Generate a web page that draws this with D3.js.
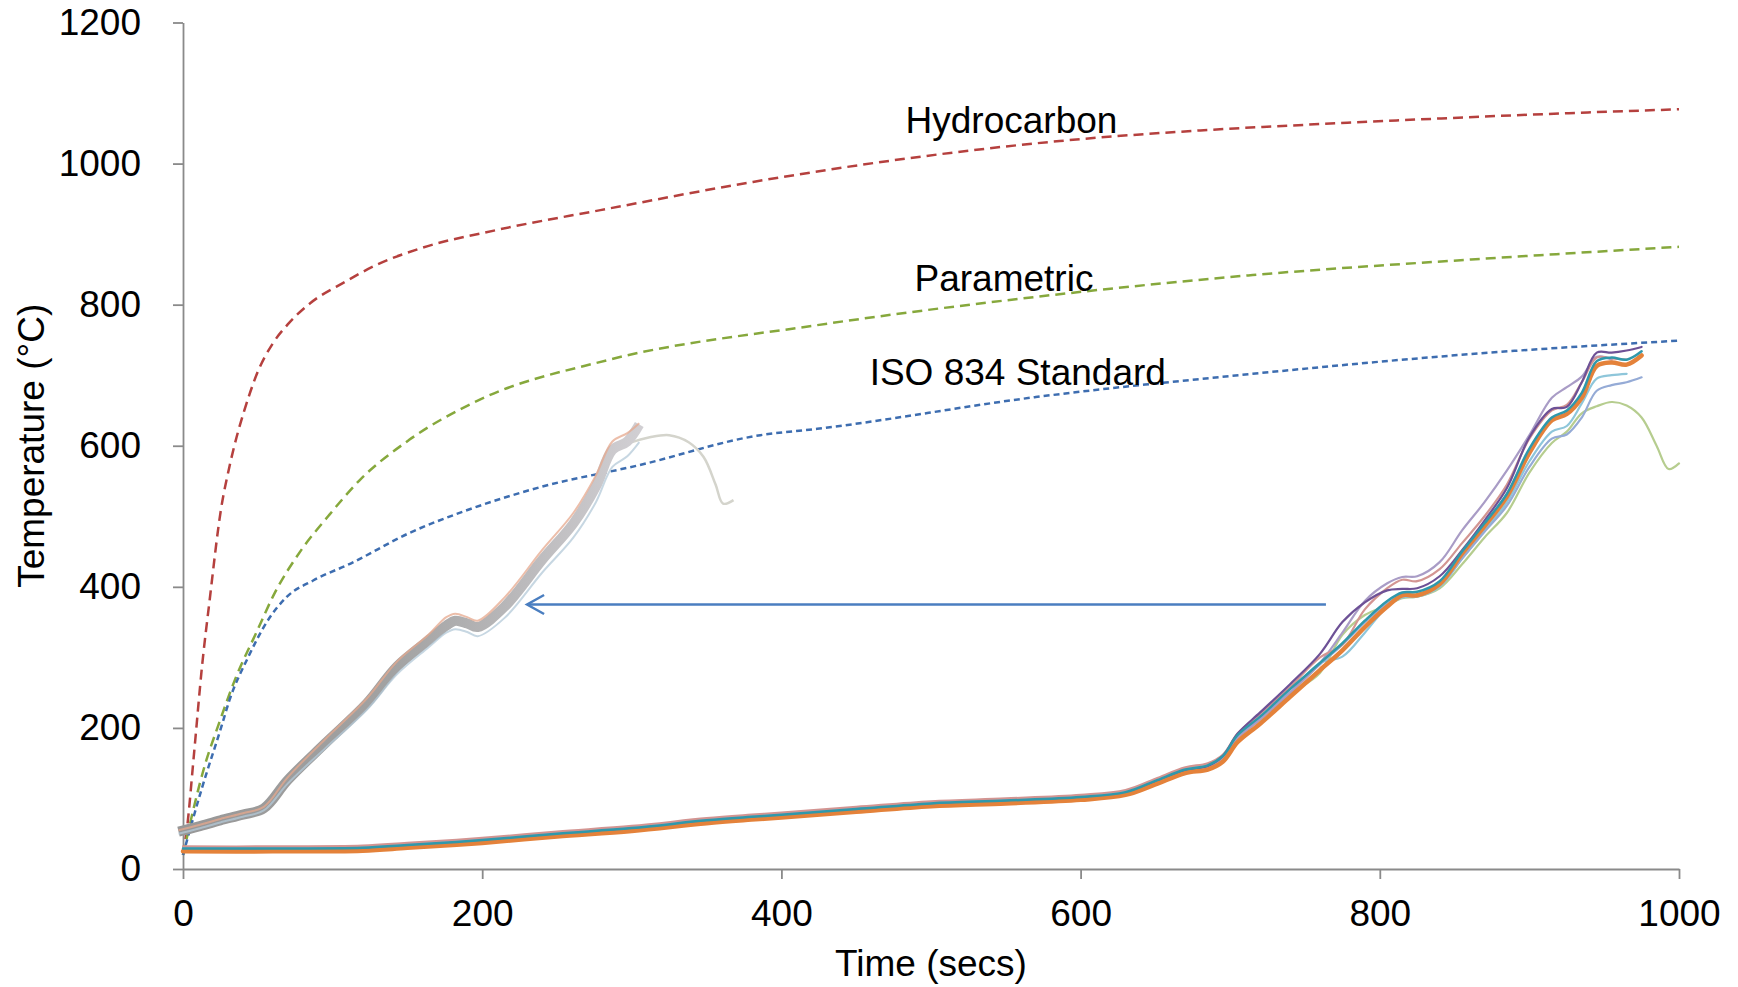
<!DOCTYPE html>
<html>
<head>
<meta charset="utf-8">
<script src="https://cdn.jsdelivr.net/npm/d3@7"></script>
<style>
  body { margin: 0; background: #fff; }
  svg { display: block; font-family: "Liberation Sans", Arial, sans-serif; }
  .axis path, .axis line { stroke: #8a8a8a; stroke-width: 1.8px; }
  .axis text { font-size: 37px; fill: #000; }
</style>
</head>
<body>
<svg id="chart" width="1738" height="987"></svg>
<script>
// ---- fire curves (time in secs, temperature in degC) ----
var hydroTimes = [0, 2.5, 7.6, 12.7, 17.8, 25.4, 31, 35.8, 41, 50, 60, 70, 85, 108, 130, 159, 210, 279, 381, 483, 586, 680, 760, 841, 920, 1000];
var hydroTemps = [20, 55, 169, 287, 381, 510, 570, 612, 650, 705, 745, 772, 802, 832, 857, 880, 906, 934, 974, 1007, 1032, 1047, 1056, 1064, 1071, 1077];

var paramTimes = [0, 15, 23, 36, 49, 61, 79, 97, 118, 151, 197, 283, 424, 570, 715, 861, 1000];
var paramTemps = [20, 150, 200, 275, 335, 390, 452, 500, 551, 608, 664, 721, 771, 811, 842, 864, 882];

var isoTimes = [0, 12.7, 25.4, 31, 43.5, 56, 69, 87, 112, 151, 189, 240, 304, 386, 424, 570, 715, 861, 1000];
var isoTemps = [20, 115, 200, 239, 300, 350, 385, 409, 433, 476, 508, 542, 572, 615, 624, 669, 702, 730, 749];

// ---- test thermocouples ----
var testTimes = [0, 60, 120, 150, 200, 250, 300, 350, 380, 400, 450, 500, 550, 600, 630, 650, 670, 685, 695, 705,
                 720, 740, 760, 775, 790, 805, 815, 825, 840, 855, 870, 885, 900, 915, 925, 935, 945, 955, 965, 975,
                 985, 993, 1000];
var tcGreen = [28, 28, 29, 33, 40, 49, 57, 68, 73, 76, 84, 92, 96, 101, 108, 124, 140, 145, 157, 187,
               213, 248, 278, 332, 360, 374, 384, 386, 398, 432, 470, 505, 562, 604, 620, 646, 656, 662, 657, 640,
               600, 567, 575];
var tcLightBlue = [30, 30, 31, 35, 42, 51, 59, 70, 75, 78, 86, 94, 98, 103, 110, 126, 142, 147, 159, 189,
                   215, 250, 292, 301, 335, 372, 385, 386, 400, 440, 480, 520, 578, 620, 628, 660, 695, 700, 702, null,
                   null, null, null];
var tcPeriwinkle = [27, 27, 28, 32, 39, 48, 56, 67, 72, 75, 83, 91, 95, 100, 107, 123, 139, 144, 156, 186,
                    212, 250, 290, 318, 350, 376, 388, 388, 402, 440, 478, 515, 570, 610, 616, 640, 678, 686, 690, 697,
                    null, null, null];
var tcLavender = [29, 29, 30, 34, 41, 50, 58, 69, 74, 77, 85, 93, 97, 102, 108, 123, 139, 144, 156, 186,
                  212, 250, 292, 335, 380, 405, 414, 415, 435, 480, 520, 565, 615, 668, 683, 698, 726, 722, null, null,
                  null, null, null];
var tcRose = [32, 32, 33, 37, 44, 53, 61, 72, 77, 80, 88, 96, 100, 105, 112, 128, 144, 150, 162, 192,
              220, 258, 300, 318, 368, 398, 410, 408, 425, 462, 500, 545, 610, 650, 658, 690, 725, 724, 722, null,
              null, null, null];
var tcPurple = [28, 28, 29, 33, 40, 49, 57, 68, 73, 76, 84, 92, 96, 101, 108, 124, 140, 146, 160, 192,
                222, 262, 305, 350, 378, 395, 397, 398, 415, 452, 494, 540, 612, 652, 655, 690, 732, 732, 735, 740,
                null, null, null];
var tcOrange = [25, 25, 26, 30, 37, 46, 54, 65, 70, 73, 81, 89, 93, 98, 105, 120, 136, 141, 152, 180,
                206, 244, 282, 310, 343, 372, 388, 388, 404, 447, 486, 528, 590, 636, 645, 668, 713, 718, 715, 728,
                null, null, null];
var tcTeal = [29, 29, 30, 34, 41, 50, 58, 69, 74, 77, 85, 93, 97, 102, 109, 125, 141, 147, 160, 190,
              216, 255, 292, 320, 352, 380, 392, 393, 408, 450, 490, 532, 596, 640, 650, 675, 720, 725, 722, 734,
              null, null, null];

// ---- earlier test, pasted in shifted to the left ----
var shiftTimes = [-3, 10, 25, 40, 54, 70, 95, 123, 143, 164, 176, 182, 190, 197, 215, 240, 261, 276, 287, 297, 305];
var shiftGray  = [53, 60, 69, 77, 86, 126, 178, 235, 287, 324, 345, 352, 348, 343, 372, 438, 490, 542, 594, 606, 630];
var shiftPink  = [55, 62, 71, 79, 88, 130, 184, 242, 294, 332, 357, 362, 357, 352, 385, 452, 505, 558, 606, 618, 632];
var shiftBlue  = [50, 57, 66, 74, 83, 121, 171, 226, 276, 314, 335, 340, 336, 330, 356, 420, 470, 520, 570, 585, 605];
var tailTimes = [297, 312, 325, 338, 348, 356, 361, 368];
var tailTemps = [603, 612, 615, 605, 584, 545, 518, 523];

var arrowFrom = [764, 375];
var arrowTo = [230, 375];

var xTicks = [0, 200, 400, 600, 800, 1000];
var yTicks = [0, 200, 400, 600, 800, 1000, 1200];

var curveLabels = [
  { text: "Hydrocarbon", t: 483, temp: 1043 },
  { text: "Parametric", t: 489, temp: 820 },
  { text: "ISO 834 Standard", t: 459, temp: 686 }
];

var svg = d3.select("#chart");
var W = 1738, H = 987;
var margin = { left: 183, right: 59, top: 22.5, bottom: 118 };

var x = d3.scaleLinear().domain([0, 1000]).range([margin.left, W - margin.right]);
var y = d3.scaleLinear().domain([0, 1200]).range([H - margin.bottom, margin.top]);

var zip = function(ts, vs) {
  return ts.map(function(t, i) { return { t: t, v: vs[i] }; });
};

var smoothLine = d3.line()
  .defined(function(d) { return d.v != null; })
  .x(function(d) { return x(d.t); })
  .y(function(d) { return y(d.v); })
  .curve(d3.curveCatmullRom.alpha(0.5));

var monoLine = d3.line()
  .x(function(d) { return x(d.t); })
  .y(function(d) { return y(d.v); })
  .curve(d3.curveMonotoneX);

// Axes
svg.append("g").attr("class", "axis")
  .attr("transform", "translate(0," + y(0) + ")")
  .call(d3.axisBottom(x).tickValues(xTicks).tickFormat(d3.format("d"))
    .tickSize(10).tickSizeOuter(0).tickPadding(21));
svg.append("g").attr("class", "axis")
  .attr("transform", "translate(" + x(0) + ",0)")
  .call(d3.axisLeft(y).tickValues(yTicks).tickFormat(d3.format("d"))
    .tickSize(10).tickSizeOuter(0).tickPadding(32));

svg.append("text").attr("x", (x(0) + x(1000)) / 2).attr("y", 976)
  .attr("text-anchor", "middle").style("font-size", "37px").text("Time (secs)");
svg.append("text").attr("transform", "translate(44," + (y(0) + y(1200)) / 2 + ") rotate(-90)")
  .attr("text-anchor", "middle").style("font-size", "37px").text("Temperature (°C)");

// Fire curves
var fires = [
  { times: hydroTimes, temps: hydroTemps, color: "#b5403e", dash: "10,6" },
  { times: paramTimes, temps: paramTemps, color: "#86a83c", dash: "10,6" },
  { times: isoTimes, temps: isoTemps, color: "#3d6db0", dash: "6,4" }
];
fires.forEach(function(f) {
  svg.append("path").attr("d", monoLine(zip(f.times, f.temps)))
    .attr("fill", "none").attr("stroke", f.color).attr("stroke-width", 2.5)
    .attr("stroke-dasharray", f.dash);
});

// Shifted earlier test (faded)
var defs = svg.append("defs");
var grad = defs.append("linearGradient").attr("id", "fade")
  .attr("gradientUnits", "userSpaceOnUse")
  .attr("x1", x(0)).attr("x2", x(310)).attr("y1", 0).attr("y2", 0);
grad.append("stop").attr("offset", "0").attr("stop-color", "#979797");
grad.append("stop").attr("offset", "0.45").attr("stop-color", "#a2a2a2");
grad.append("stop").attr("offset", "1").attr("stop-color", "#d2d0d4");

svg.append("path").attr("d", smoothLine(zip(tailTimes, tailTemps)))
  .attr("fill", "none").attr("stroke", "#d4d4cc").attr("stroke-width", 2.5);
svg.append("path").attr("d", smoothLine(zip(shiftTimes, shiftGray)))
  .attr("fill", "none").attr("stroke", "url(#fade)").attr("stroke-width", 10);
[[shiftBlue, "#b4cad8"], [shiftPink, "#e6a88e"]].forEach(function(s) {
  svg.append("path").attr("d", smoothLine(zip(shiftTimes, s[0])))
    .attr("fill", "none").attr("stroke", s[1]).attr("stroke-width", 2)
    .attr("stroke-opacity", 0.75);
});

// Test thermocouples
var tests = [
  { temps: tcGreen, color: "#b6cd8f", w: 2.2 },
  { temps: tcLightBlue, color: "#8ec6da", w: 2.2 },
  { temps: tcPeriwinkle, color: "#95abd6", w: 2.2 },
  { temps: tcLavender, color: "#a99cc6", w: 2.2 },
  { temps: tcRose, color: "#d39592", w: 2.2 },
  { temps: tcPurple, color: "#6d5196", w: 2.2 },
  { temps: tcOrange, color: "#e4823a", w: 4.5 },
  { temps: tcTeal, color: "#2f98ab", w: 2.5 }
];
tests.forEach(function(s) {
  svg.append("path").attr("d", smoothLine(zip(testTimes, s.temps)))
    .attr("fill", "none").attr("stroke", s.color).attr("stroke-width", s.w)
    .attr("stroke-linejoin", "round").attr("stroke-linecap", "round");
});

// Shift arrow
var ax0 = x(arrowFrom[0]), ax1 = x(arrowTo[0]), ay = y(arrowTo[1]);
svg.append("line").attr("x1", ax0).attr("x2", ax1).attr("y1", ay).attr("y2", ay)
  .attr("stroke", "#4a7ec0").attr("stroke-width", 2.5);
svg.append("path")
  .attr("d", "M" + (ax1 + 17) + "," + (ay - 9.5) + "L" + ax1 + "," + ay + "L" + (ax1 + 17) + "," + (ay + 9.5))
  .attr("fill", "none").attr("stroke", "#4a7ec0").attr("stroke-width", 2.5);

// Curve labels
svg.selectAll("text.curve-label").data(curveLabels).enter().append("text")
  .attr("class", "curve-label")
  .attr("x", function(d) { return x(d.t); })
  .attr("y", function(d) { return y(d.temp); })
  .style("font-size", "37px")
  .text(function(d) { return d.text; });
</script>
</body>
</html>
